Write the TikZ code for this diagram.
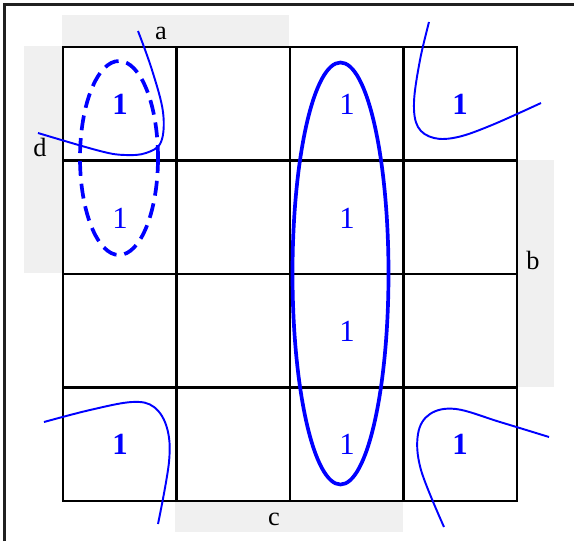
\documentclass[tikz,border=0pt]{standalone}
\usepackage{fontspec}
\setmainfont{Liberation Serif}
\usetikzlibrary{positioning}
\definecolor{KmapBlue}{HTML}{0000FF}
\definecolor{KmapShade}{HTML}{F0F0F0}
\definecolor{KmapFrame}{HTML}{202020}

\begin{document}
\begin{tikzpicture}[
    x=0.02cm, y=-0.02cm,
    band/.style={
      fill=KmapShade,
      draw=none
    },
    cellline/.style={
      line width=1.3pt,
      color=black
    },
    varlabel/.style={
      font=\fontsize{15}{18}\selectfont,
      inner sep=0pt
    },
    one/.style={
      font=\fontsize{17.5}{21}\selectfont,
      text=KmapBlue,
      inner sep=0pt
    },
    boldone/.style={
      font=\fontsize{17.5}{21}\selectfont\bfseries,
      text=KmapBlue,
      inner sep=0pt
    },
    loop/.style={
      draw=KmapBlue,
      line width=2.1pt
    },
    wrap/.style={
      draw=KmapBlue,
      line width=1.1pt
    }
  ]
  \useasboundingbox (0,0) rectangle (574,541);

  % frame
  \draw[KmapFrame,line width=1.4pt] (4.5,541) -- (4.5,4.5) -- (574,4.5);

  % shaded variable bands
  \fill[band] (62,15) rectangle (289,47);
  \fill[band] (24,46) rectangle (63,273);
  \fill[band] (517,160) rectangle (554,387);
  \fill[band] (175,501) rectangle (403,532);

  \node[varlabel] (la) at (161,33)  {a};
  \node[varlabel] (ld) at (40,147)  {d};
  \node[varlabel] (lb) at (533,260) {b};
  \node[varlabel] (lc) at (274,519) {c};

  % grid
  \draw[cellline] (63,47) rectangle (517,501);
  \foreach \x in {176.5,290,403.5}
    \draw[cellline] (\x,47) -- (\x,501);
  \foreach \y in {160.5,274,387.5}
    \draw[cellline] (63,\y) -- (517,\y);

  % cell entries
  \node[boldone] (m0)  at (120,104) {1};
  \node[one]     (m1)  at (120,218) {1};
  \node[one]     (m2)  at (347,104) {1};
  \node[one]     (m6)  at (347,218) {1};
  \node[one]     (m14) at (347,331) {1};
  \node[one]     (m10) at (347,444) {1};
  \node[boldone] (m4)  at (460,104) {1};
  \node[boldone] (m8)  at (120,444) {1};
  \node[boldone] (m12) at (460,444) {1};

  % groups
  \draw[loop,dash pattern=on 8.5pt off 4.5pt] (119,158) ellipse [x radius=39, y radius=97];
  \draw[loop] (340.5,273.5) ellipse [x radius=48, y radius=211];

  % corner group (wraps round)
  \draw[wrap] plot[smooth,tension=0.6] coordinates
    {(138,31) (152,70) (163,112) (161,142) (146,153) (125,155) (100,151) (38,133)};
  \draw[wrap] plot[smooth,tension=0.6] coordinates
    {(429,22) (420,60) (414,102) (418,127) (434,138) (458,137) (492,125) (541,103)};
  \draw[wrap] plot[smooth,tension=0.6] coordinates
    {(44,422) (90,410) (132,402) (154,407) (167,428) (169,462) (158,524)};
  \draw[wrap] plot[smooth,tension=0.6] coordinates
    {(549,437) (500,422) (456,409) (430,414) (418,434) (421,470) (444,527)};

\end{tikzpicture}
\end{document}
